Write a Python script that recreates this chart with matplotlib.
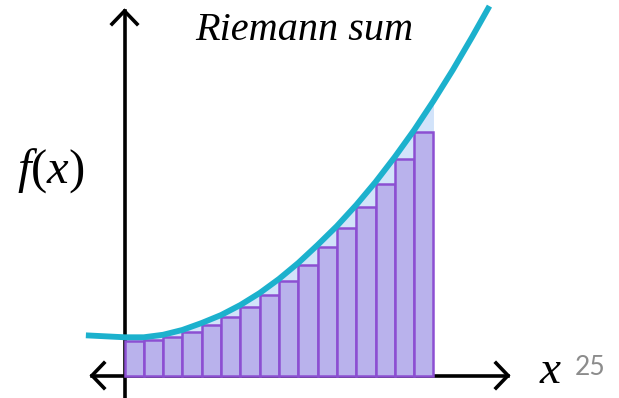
import matplotlib
matplotlib.use("Agg")
import matplotlib.pyplot as plt
import numpy as np

# ---- data (one unit = one subinterval width) ----
bar_left = [0, 1, 2, 3, 4, 5, 6, 7, 8, 9, 10, 11, 12, 13, 14, 15]
bar_height = [1.79, 1.84, 1.99, 2.25, 2.62, 3.03, 3.55, 4.17, 4.89,
              5.72, 6.65, 7.64, 8.73, 9.92, 11.21, 12.61]
bar_width = 1.0

curve_x = [-2.0, -1.0, 0, 1, 2, 3, 4, 5, 6, 7, 8, 9, 10, 11, 12, 13,
           14, 15, 16, 17, 18, 18.9]
curve_y = [2.08, 2.03, 1.98, 1.98, 2.11, 2.36, 2.72, 3.13, 3.65, 4.27,
           5.00, 5.83, 6.76, 7.74, 8.83, 10.02, 11.32, 12.71, 14.22,
           15.82, 17.53, 19.13]

title_text = "Riemann sum"
ylabel_text = r"$f(x)$"
xlabel_text = "x"
page_number = "25"

# ---- layout: canvas pixels mapped to data units ----
W, H = 619, 398
X0, Y0, S = 124.5, 375.5, 19.31   # origin position and pixels per unit


def px(xp, yp):
    return (xp - X0) / S, (Y0 - yp) / S


plt.rcParams["mathtext.fontset"] = "custom"
plt.rcParams["mathtext.rm"] = "Liberation Serif"
plt.rcParams["mathtext.it"] = "Liberation Serif:italic"

fig = plt.figure(figsize=(W / 100, H / 100), dpi=100)
ax = fig.add_axes([0, 0, 1, 1])
ax.set_xlim(px(0, 0)[0], px(W, 0)[0])
ax.set_ylim(px(0, H)[1], px(0, 0)[1])
ax.axis("off")

# light shading under the curve over the partitioned interval
cx = np.array(curve_x)
cy = np.array(curve_y)
mask = (cx >= 0) & (cx <= 16)
ax.fill_between(cx[mask], 0, cy[mask], color="#d2e3fa", lw=0, zorder=1)

# coordinate axes with open arrowheads
ax_col = "black"
lw_ax = 2.6
ax.plot(*zip(px(124.5, 400), px(124.5, 11)), color=ax_col, lw=lw_ax, zorder=2)
ax.plot(*zip(px(112, 24), px(124.5, 11), px(137, 24)), color=ax_col, lw=lw_ax,
        solid_joinstyle="miter", zorder=2)
ax.plot(*zip(px(92, 375.5), px(508, 375.5)), color=ax_col, lw=lw_ax, zorder=2)
ax.plot(*zip(px(104, 363), px(92, 375.5), px(104, 388)), color=ax_col, lw=lw_ax,
        solid_joinstyle="miter", zorder=2)
ax.plot(*zip(px(496, 363), px(508, 375.5), px(496, 388)), color=ax_col, lw=lw_ax,
        solid_joinstyle="miter", zorder=2)

# left-endpoint rectangles
ax.bar(bar_left, bar_height, width=bar_width, align="edge",
       color="#b9b2ec", edgecolor="#8c4fd2", linewidth=1.8, zorder=3)

# the function curve
ax.plot(curve_x, curve_y, color="#1cb1cd", lw=4.2, solid_capstyle="butt",
        solid_joinstyle="round", zorder=4)

# labels
ax.text(*px(304, 40), title_text, fontsize=29, fontstyle="italic",
        family="Liberation Serif", ha="center", va="baseline")
ax.text(*px(17, 183), ylabel_text, fontsize=35, ha="left", va="baseline")
ax.text(*px(540, 383), xlabel_text, fontsize=34, fontstyle="italic",
        family="Liberation Serif", ha="left", va="baseline")
ax.text(*px(575, 375), page_number, fontsize=19, color="#8c8c8c",
        family="Lato", ha="left", va="baseline")

fig.savefig("out.png", dpi=100)
